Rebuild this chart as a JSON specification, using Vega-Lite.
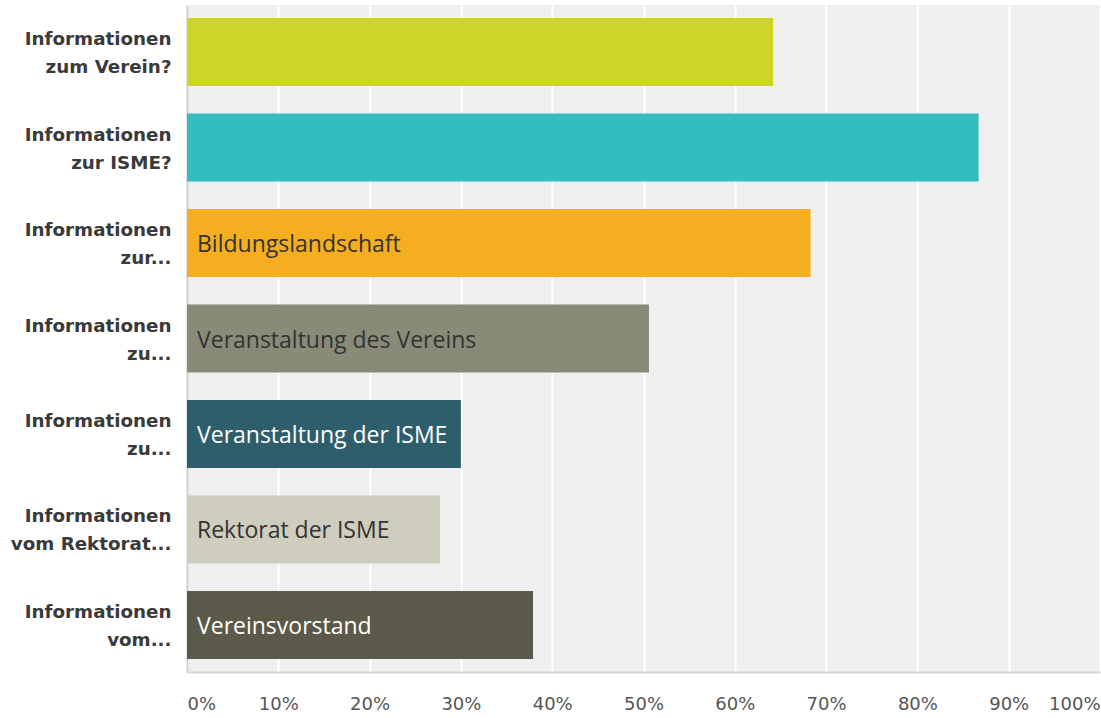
{
  "$schema": "https://vega.github.io/schema/vega-lite/v6.json",
  "width": 913,
  "height": 667,
  "autosize": {"type": "none"},
  "padding": {"left": 187, "top": 5, "right": 1, "bottom": 46},
  "background": "white",
  "config": {
    "view": {"fill": "#efefef", "stroke": null},
    "axis": {"domainColor": "#d0d0d0", "domainWidth": 2, "ticks": false}
  },
  "data": {
    "values": [
      {"q": "Informationen|zum Verein?", "value": 0.642, "inner": ""},
      {"q": "Informationen|zur ISME?", "value": 0.867, "inner": ""},
      {"q": "Informationen|zur...", "value": 0.683, "inner": "Bildungslandschaft"},
      {"q": "Informationen|zu...", "value": 0.506, "inner": "Veranstaltung des Vereins"},
      {"q": "Informationen|zu... ", "value": 0.300, "inner": "Veranstaltung der ISME"},
      {"q": "Informationen|vom Rektorat...", "value": 0.277, "inner": "Rektorat der ISME"},
      {"q": "Informationen|vom...", "value": 0.379, "inner": "Vereinsvorstand"}
    ]
  },
  "encoding": {
    "y": {
      "field": "q", "type": "nominal", "sort": null,
      "scale": {"paddingInner": 0.287, "paddingOuter": 0.136},
      "axis": {
        "title": null,
        "labelExpr": "split(datum.label, '|')",
        "labelFont": "DejaVu Sans",
        "labelFontWeight": "bold",
        "labelFontSize": 18.3,
        "labelColor": "#3a3a3a",
        "labelLineHeight": 28,
        "labelPadding": 16,
        "labelOffset": -12,
        "labelLimit": 200,
        "grid": false
      }
    }
  },
  "layer": [
    {
      "mark": {"type": "bar"},
      "encoding": {
        "x": {
          "field": "value", "type": "quantitative",
          "scale": {"domain": [0, 1], "nice": false},
          "axis": {
            "title": null,
            "format": ".0%",
            "values": [0, 0.1, 0.2, 0.3, 0.4, 0.5, 0.6, 0.7, 0.8, 0.9, 1],
            "labelFont": "DejaVu Sans",
            "labelFontSize": 18,
            "labelColor": "#555555",
            "labelPadding": 23,
            "labelFlush": true,
            "grid": true,
            "gridColor": "white",
            "gridWidth": 2,
            "domainColor": "#d8d8d8"
          }
        },
        "color": {
          "field": "q", "type": "nominal", "legend": null,
          "scale": {
            "domain": ["Informationen|zum Verein?", "Informationen|zur ISME?", "Informationen|zur...", "Informationen|zu...", "Informationen|zu... ", "Informationen|vom Rektorat...", "Informationen|vom..."],
            "range": ["#cfd428", "#33bdbf", "#f5ae20", "#8a8a78", "#2e5e6b", "#cfcdbe", "#5b5949"]
          }
        }
      }
    },
    {
      "mark": {"type": "text", "align": "left", "baseline": "middle", "dx": 10, "dy": 2, "font": "Open Sans", "fontSize": 23},
      "encoding": {
        "x": {"datum": 0, "type": "quantitative"},
        "text": {"field": "inner"},
        "color": {
          "condition": {"test": "datum.inner === 'Veranstaltung der ISME' || datum.inner === 'Vereinsvorstand'", "value": "white"},
          "value": "#333333"
        }
      }
    }
  ]
}
